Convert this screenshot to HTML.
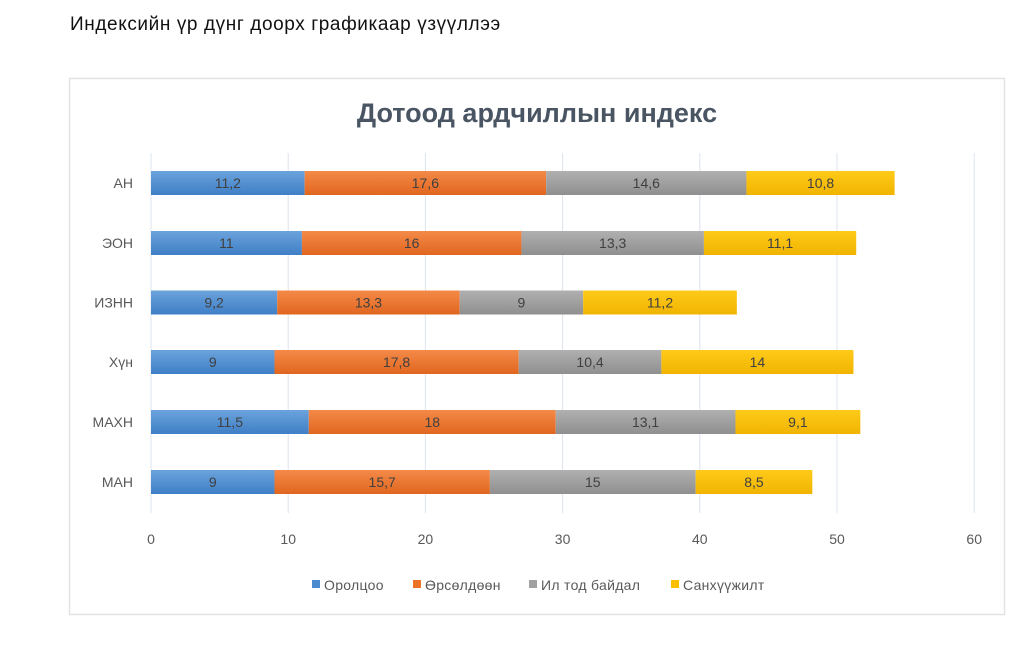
<!DOCTYPE html>
<html><head><meta charset="utf-8">
<style>
body{margin:0;background:#fff;width:1024px;height:658px;overflow:hidden;font-family:"Liberation Sans","DejaVu Sans",sans-serif;}
</style></head>
<body>
<svg id="s" width="1024" height="658" xmlns="http://www.w3.org/2000/svg" font-family="Liberation Sans, DejaVu Sans, sans-serif">
<defs>
<linearGradient id="g0" x1="0" y1="0" x2="0" y2="1"><stop offset="0" stop-color="#6ba3dc"/><stop offset="1" stop-color="#3f7fc6"/></linearGradient>
<linearGradient id="g1" x1="0" y1="0" x2="0" y2="1"><stop offset="0" stop-color="#f48a48"/><stop offset="1" stop-color="#e0661f"/></linearGradient>
<linearGradient id="g2" x1="0" y1="0" x2="0" y2="1"><stop offset="0" stop-color="#b0b0b0"/><stop offset="1" stop-color="#8f8f8f"/></linearGradient>
<linearGradient id="g3" x1="0" y1="0" x2="0" y2="1"><stop offset="0" stop-color="#ffca1a"/><stop offset="1" stop-color="#f0b400"/></linearGradient>
</defs>
<text x="70" y="30" font-size="19" letter-spacing="0.6" fill="#111">Индексийн үр дүнг доорх графикаар үзүүллээ</text>
<rect x="69.5" y="78.5" width="935" height="536" fill="#fff" stroke="#e3e3e3" stroke-width="1.5"/>
<text x="537" y="122" font-size="27" font-weight="bold" fill="#4a5563" text-anchor="middle">Дотоод ардчиллын индекс</text>
<g id="grid"></g>
<g id="bars"></g>
<g font-size="14" fill="#595959" letter-spacing="0.3">
<rect x="312" y="580" width="8" height="8" fill="#4a8bd0"/><text x="324" y="590">Оролцоо</text>
<rect x="413" y="580" width="8" height="8" fill="#ec7426"/><text x="425" y="590">Өрсөлдөөн</text>
<rect x="529" y="580" width="8" height="8" fill="#a0a0a0"/><text x="541" y="590">Ил тод байдал</text>
<rect x="671" y="580" width="8" height="8" fill="#fcbe00"/><text x="683" y="590">Санхүүжилт</text>
</g>
</svg>
<script>
var x0=151,u=13.72,NS="http://www.w3.org/2000/svg";
function el(p,t,a,txt){var e=document.createElementNS(NS,t);for(var k in a)e.setAttribute(k,a[k]);if(txt!=null)e.textContent=txt;p.appendChild(e);return e;}
var g=document.getElementById('grid'),b=document.getElementById('bars');
for(var i=0;i<=6;i++){var x=x0+i*10*u;el(g,'line',{x1:x,x2:x,y1:153,y2:513,stroke:'#dde3ec','stroke-width':1});
el(g,'text',{x:x,y:544,'font-size':14,fill:'#595959','text-anchor':'middle'},String(i*10));}
var rows=[["АН",183,[11.2,17.6,14.6,10.8]],["ЭОН",243,[11,16,13.3,11.1]],["ИЗНН",302.5,[9.2,13.3,9,11.2]],["Хүн",362,[9,17.8,10.4,14]],["МАХН",422,[11.5,18,13.1,9.1]],["МАН",482,[9,15.7,15,8.5]]];
rows.forEach(function(r){
 el(b,'text',{x:133,y:r[1]+5,'font-size':14,fill:'#595959','text-anchor':'end'},r[0]);
 var c=0;r[2].forEach(function(v,j){var xa=x0+c*u,w=v*u;
 el(b,'rect',{x:xa,y:r[1]-12,width:w,height:24,fill:'url(#g'+j+')'});
 el(b,'text',{x:xa+w/2,y:r[1]+5,'font-size':14,fill:'#404040','text-anchor':'middle'},String(v).replace('.',','));
 c+=v;});
});
</script>
</body></html>
